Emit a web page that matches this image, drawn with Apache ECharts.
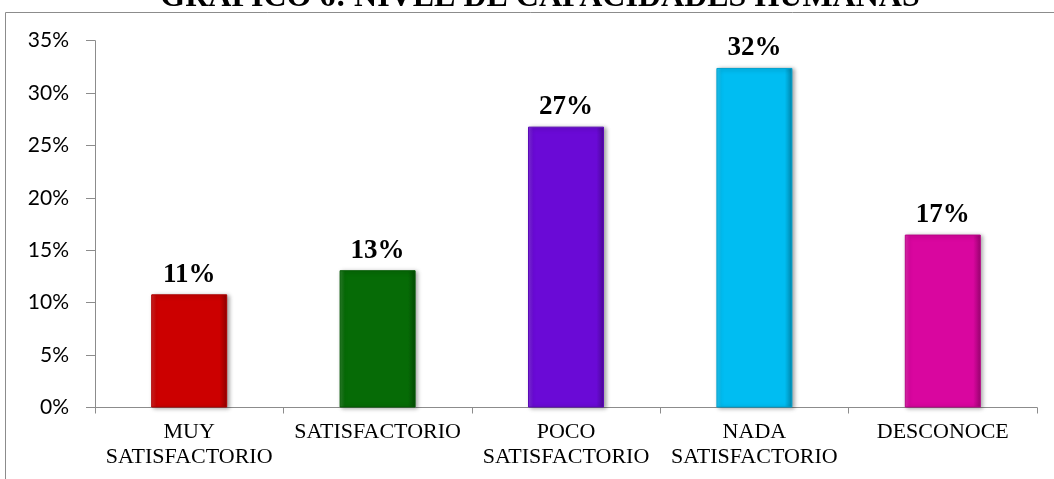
<!DOCTYPE html>
<html>
<head>
<meta charset="utf-8">
<script src="https://cdn.jsdelivr.net/npm/echarts@6/dist/echarts.min.js"></script>
<style>
html,body{margin:0;padding:0;background:#fff;}
#chart{width:1054px;height:479px;}
</style>
</head>
<body>
<div id="chart"></div>
<script>
const titleText = 'GRÁFICO 6: NIVEL DE CAPACIDADES HUMANAS';
const categories = ['MUY\nSATISFACTORIO', 'SATISFACTORIO', 'POCO\nSATISFACTORIO', 'NADA\nSATISFACTORIO', 'DESCONOCE'];
const values = [10.8, 13.1, 26.8, 32.4, 16.5];
const barColors = ['#CC0000', '#066B06', '#6A0AD6', '#00BDF2', '#D9069F'];
const yTicks = [0, 5, 10, 15, 20, 25, 30, 35];

function shade(hex, f) {
  const n = parseInt(hex.slice(1), 16);
  let r = (n >> 16) & 255, g = (n >> 8) & 255, b = n & 255;
  if (f < 0) { r = Math.round(r * (1 + f)); g = Math.round(g * (1 + f)); b = Math.round(b * (1 + f)); }
  else { r = Math.round(r + (255 - r) * f); g = Math.round(g + (255 - g) * f); b = Math.round(b + (255 - b) * f); }
  return 'rgb(' + r + ',' + g + ',' + b + ')';
}

const chart = echarts.init(document.getElementById('chart'), null, {renderer: 'canvas'});
chart.setOption({
  animation: false,
  backgroundColor: '#ffffff',
  title: {
    text: titleText,
    left: 535,
    textAlign: 'center',
    top: -23,
    textStyle: {fontFamily: 'Liberation Serif', fontWeight: 'bold', fontSize: 32, color: '#000'}
  },
  graphic: [{
    type: 'rect',
    shape: {x: 5.5, y: 12.5, width: 1200, height: 600},
    style: {fill: 'none', stroke: '#8c8c8c', lineWidth: 1},
    z: -1
  }],
  grid: {left: 95, right: 17, top: 40.7, bottom: 71.5, containLabel: false},
  xAxis: {
    type: 'category',
    data: categories,
    axisLine: {lineStyle: {color: '#8c8c8c', width: 1}},
    axisTick: {show: true, length: 6, lineStyle: {color: '#8c8c8c'}},
    axisLabel: {
      interval: 0, margin: 12,
      fontFamily: 'Liberation Serif', fontSize: 22, color: '#000', lineHeight: 25
    }
  },
  yAxis: {
    type: 'value',
    min: yTicks[0], max: yTicks[yTicks.length - 1], interval: 5,
    splitLine: {show: false},
    axisLine: {show: true, lineStyle: {color: '#8c8c8c', width: 1}},
    axisTick: {show: true, length: 9, lineStyle: {color: '#8c8c8c'}},
    axisLabel: {
      formatter: '{value}%', margin: 26,
      fontFamily: 'Lato', fontSize: 21, color: '#000'
    }
  },
  series: [{
    type: 'bar',
    barWidth: 76,
    data: values.map((v, i) => ({
      value: v,
      itemStyle: {
        color: {
          type: 'linear', x: 0, y: 0, x2: 1, y2: 0,
          colorStops: [
            {offset: 0, color: shade(barColors[i], 0.15)},
            {offset: 0.07, color: barColors[i]},
            {offset: 0.9, color: barColors[i]},
            {offset: 1, color: shade(barColors[i], -0.3)}
          ]
        },
        borderColor: shade(barColors[i], -0.15),
        borderWidth: 1,
        shadowColor: 'rgba(0,0,0,0.35)',
        shadowBlur: 4,
        shadowOffsetX: 2,
        shadowOffsetY: 1
      }
    })),
    label: {
      show: true, position: 'top', distance: 6,
      formatter: p => Math.round(p.value) + '%',
      fontFamily: 'Liberation Serif', fontWeight: 'bold', fontSize: 27, color: '#000'
    }
  }]
});
</script>
</body>
</html>
